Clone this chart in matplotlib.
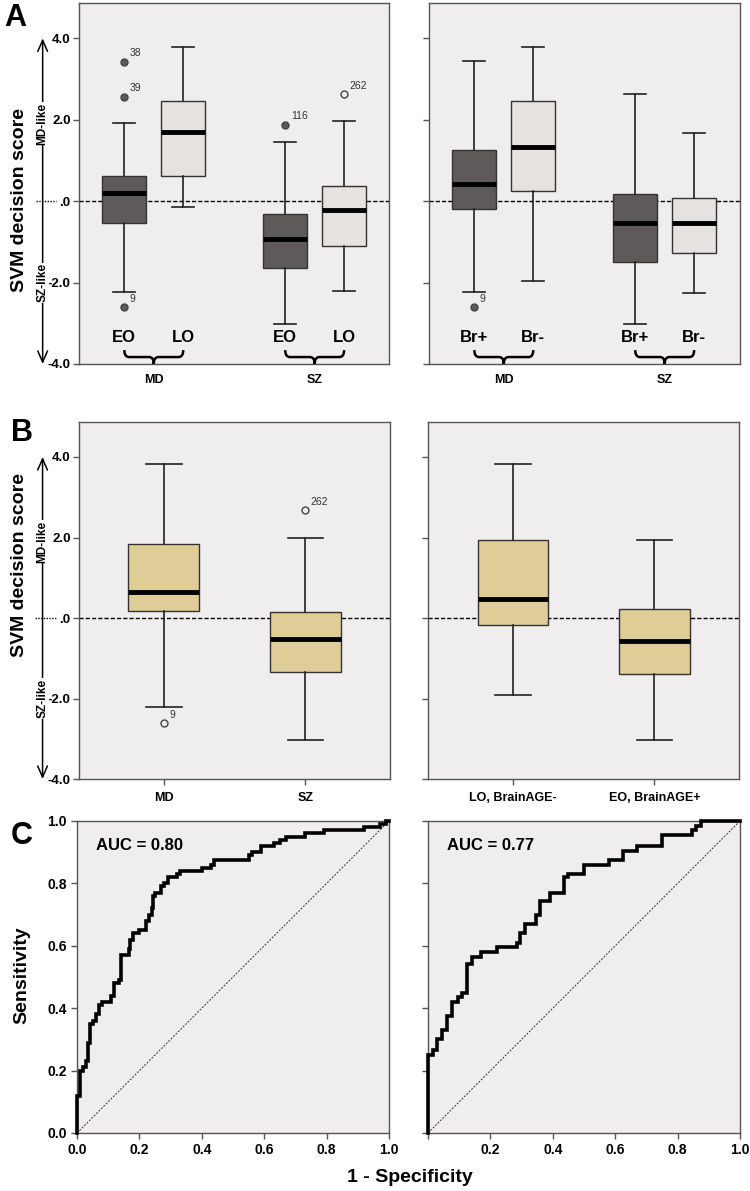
import matplotlib
matplotlib.use('Agg')
import matplotlib.pyplot as plt
from matplotlib.path import Path
from matplotlib.patches import PathPatch
from matplotlib.lines import Line2D

plt.rcParams['font.family'] = ['Liberation Sans', 'DejaVu Sans']

# ---- panel A, left: onset (EO / LO) within MD and SZ
a1_groups = ['MD', 'SZ']
a1_labels = ['EO', 'LO', 'EO', 'LO']
a1_whislo = [-2.22, -0.15, -3.02, -2.20]
a1_q1 = [-0.53, 0.63, -1.63, -1.10]
a1_med = [0.20, 1.69, -0.92, -0.22]
a1_q3 = [0.62, 2.45, -0.32, 0.37]
a1_whishi = [1.91, 3.78, 1.46, 1.96]
a1_fliers = [[3.42, 2.56, -2.61], [], [1.88], [2.63]]
a1_flier_ids = [['38', '39', '9'], [], ['116'], ['262']]

# ---- panel A, right: BrainAGE (Br+ / Br-) within MD and SZ
a2_groups = ['MD', 'SZ']
a2_labels = ['Br+', 'Br-', 'Br+', 'Br-']
a2_whislo = [-2.22, -1.96, -3.02, -2.26]
a2_q1 = [-0.20, 0.25, -1.50, -1.27]
a2_med = [0.42, 1.34, -0.53, -0.53]
a2_q3 = [1.26, 2.46, 0.17, 0.09]
a2_whishi = [3.44, 3.80, 2.64, 1.67]
a2_fliers = [[-2.61], [], [], []]
a2_flier_ids = [['9'], [], [], []]

# ---- panel B
b1_labels = ['MD', 'SZ']
b1_whislo = [-2.22, -3.02]
b1_q1 = [0.17, -1.34]
b1_med = [0.65, -0.52]
b1_q3 = [1.84, 0.14]
b1_whishi = [3.83, 2.00]
b1_fliers = [[-2.62], [2.68]]
b1_flier_ids = [['9'], ['262']]

b2_labels = ['LO, BrainAGE-', 'EO, BrainAGE+']
b2_whislo = [-1.92, -3.02]
b2_q1 = [-0.18, -1.39]
b2_med = [0.48, -0.575]
b2_q3 = [1.94, 0.23]
b2_whishi = [3.83, 1.94]
b2_fliers = [[], []]
b2_flier_ids = [[], []]

# ---- panel C: ROC curves (points where the curve rises)
roc1_fpr = [0, 0, 0.008, 0.02, 0.03, 0.035, 0.04, 0.05, 0.06, 0.07, 0.08, 0.11, 0.12, 0.135,
            0.14, 0.165, 0.17, 0.18, 0.20, 0.22, 0.23, 0.24, 0.245, 0.25, 0.27, 0.28, 0.29,
            0.32, 0.33, 0.40, 0.43, 0.44, 0.55, 0.56, 0.59, 0.63, 0.65, 0.67, 0.73, 0.79,
            0.92, 0.97, 0.99, 1.0]
roc1_tpr = [0, 0.12, 0.20, 0.21, 0.23, 0.29, 0.35, 0.36, 0.38, 0.41, 0.42, 0.44, 0.48, 0.49,
            0.57, 0.59, 0.62, 0.64, 0.65, 0.68, 0.70, 0.72, 0.76, 0.77, 0.79, 0.80, 0.82,
            0.83, 0.84, 0.85, 0.86, 0.875, 0.89, 0.90, 0.92, 0.93, 0.94, 0.95, 0.96, 0.97,
            0.98, 0.99, 1.0, 1.0]
roc1_auc = 'AUC = 0.80'

roc2_fpr = [0, 0, 0.015, 0.03, 0.045, 0.06, 0.078, 0.095, 0.11, 0.125, 0.14, 0.17, 0.22,
            0.285, 0.295, 0.31, 0.345, 0.36, 0.39, 0.435, 0.45, 0.50, 0.58, 0.625, 0.67,
            0.75, 0.845, 0.86, 0.875, 1.0]
roc2_tpr = [0, 0.25, 0.265, 0.30, 0.33, 0.375, 0.42, 0.435, 0.45, 0.54, 0.565, 0.58, 0.595,
            0.61, 0.64, 0.67, 0.70, 0.745, 0.77, 0.82, 0.83, 0.86, 0.875, 0.905, 0.92,
            0.955, 0.97, 0.985, 1.0, 1.0]
roc2_auc = 'AUC = 0.77'

DARK = '#5e5a5a'
LIGHT = '#e5e2e0'
TAN = '#dfcd98'
BG = '#efeded'
EDGE = '#555555'
TICKFONT = ['Liberation Sans Narrow', 'Liberation Sans', 'DejaVu Sans']

fig = plt.figure(figsize=(7.5, 11.91), dpi=100)
fig.patch.set_facecolor('white')


def style_axes(ax):
    ax.set_facecolor(BG)
    for s in ax.spines.values():
        s.set_color(EDGE)
        s.set_linewidth(1)
    ax.tick_params(direction='out', length=4, width=1, color=EDGE)


def draw_boxes(ax, pos, width, whislo, q1, med, q3, whishi, fliers, ids, colors, filled):
    stats = []
    for i in range(len(pos)):
        stats.append(dict(whislo=whislo[i], q1=q1[i], med=med[i], q3=q3[i],
                          whishi=whishi[i], fliers=fliers[i]))
    res = ax.bxp(stats, positions=pos, widths=width, patch_artist=True,
                 capwidths=[width * 0.5] * len(pos),
                 boxprops=dict(edgecolor='#333333', linewidth=1),
                 whiskerprops=dict(color='#222222', linewidth=1.2),
                 capprops=dict(color='#222222', linewidth=1.2),
                 medianprops=dict(color='black', linewidth=3.5, solid_capstyle='butt'),
                 flierprops=dict(marker='o', markersize=5))
    for patch, c in zip(res['boxes'], colors):
        patch.set_facecolor(c)
    for fl, f in zip(res['fliers'], filled):
        fl.set_markeredgecolor('#444444')
        fl.set_markerfacecolor(DARK if f else 'none')
        fl.set_markeredgewidth(1)
    for i in range(len(pos)):
        for v, t in zip(fliers[i], ids[i]):
            ax.annotate(t, (pos[i], v), xytext=(4, 4), textcoords='offset points',
                        fontsize=7.5, color='#333333')


def score_axes(ax, left):
    style_axes(ax)
    ax.set_ylim(-4.0, 4.87)
    ax.set_yticks([4, 2, 0, -2, -4])
    ax.axhline(0, color='black', lw=1, ls=(0, (3, 1.5)), zorder=1)
    if left:
        ax.set_yticklabels(['4.0', '2.0', '.0', '-2.0', '-4.0'], fontsize=9.5,
                           fontweight='bold', family=TICKFONT)
        ax.tick_params(axis='y', pad=2)
        tr = ax.get_yaxis_transform()
        xa = -0.117
        ax.annotate('', xy=(xa, 4.0), xytext=(xa, -4.0), xycoords=tr, textcoords=tr,
                    arrowprops=dict(arrowstyle='<->,head_length=0.8,head_width=0.35', lw=1.1,
                                    color='black', shrinkA=0, shrinkB=0))
        ax.text(xa, 1.9, 'MD-like', transform=tr, rotation=90, ha='center', va='center',
                fontsize=8.5, fontweight='bold',
                bbox=dict(facecolor='white', edgecolor='none', pad=0.3))
        ax.text(xa, -2.0, 'SZ-like', transform=tr, rotation=90, ha='center', va='center',
                fontsize=8.5, fontweight='bold',
                bbox=dict(facecolor='white', edgecolor='none', pad=0.3))
        ax.add_line(Line2D([-0.14, -0.075], [0, 0], transform=tr, color='black', lw=1,
                           ls=(0, (1, 1)), clip_on=False))
    else:
        ax.set_yticklabels([])


def brace(ax, x0, x1, ytop, ybot):
    xc = (x0 + x1) / 2
    ym = (ytop + ybot) / 2
    r = (x1 - x0) * 0.08
    verts = [(x0, ytop), (x0, ym), (x0 + r, ym),
             (xc - r, ym), (xc, ym), (xc, ybot),
             (xc, ym), (xc + r, ym),
             (x1 - r, ym), (x1, ym), (x1, ytop)]
    codes = [Path.MOVETO, Path.CURVE3, Path.CURVE3,
             Path.LINETO, Path.CURVE3, Path.CURVE3,
             Path.CURVE3, Path.CURVE3,
             Path.LINETO, Path.CURVE3, Path.CURVE3]
    ax.add_patch(PathPatch(Path(verts, codes), fill=False, lw=1.8, ec='black',
                           clip_on=False, zorder=5))


# positions for clustered boxes
grp = [1, 2]
off = 0.183
pos4 = [grp[0] - off, grp[0] + off, grp[1] - off, grp[1] + off]
pos2 = [1, 2]

# ---- Panel A
for k, (x0, data) in enumerate([
        (0.1053, (a1_groups, a1_labels, a1_whislo, a1_q1, a1_med, a1_q3, a1_whishi,
                  a1_fliers, a1_flier_ids)),
        (0.572, (a2_groups, a2_labels, a2_whislo, a2_q1, a2_med, a2_q3, a2_whishi,
                 a2_fliers, a2_flier_ids))]):
    groups, labels, wl, q1, md, q3, wh, fl, ids = data
    ax = fig.add_axes([x0, 0.6944, 0.414, 0.3031])
    score_axes(ax, k == 0)
    draw_boxes(ax, pos4, 0.275, wl, q1, md, q3, wh, fl, ids,
               [DARK, LIGHT, DARK, LIGHT], [True, False, True, False])
    ax.set_xlim(0.535, 2.465)
    ax.set_xticks(grp)
    ax.set_xticklabels(groups, fontsize=9, fontweight='bold')
    ax.tick_params(axis='x', length=0, pad=7)
    for p, t in zip(pos4, labels):
        ax.text(p, -3.36, t, ha='center', va='center', fontsize=12, fontweight='bold')
    for g in grp:
        brace(ax, g - off, g + off, -3.66, -4.0)

# ---- Panel B
for k, (x0, data) in enumerate([
        (0.1053, (b1_labels, b1_whislo, b1_q1, b1_med, b1_q3, b1_whishi, b1_fliers,
                  b1_flier_ids)),
        (0.5707, (b2_labels, b2_whislo, b2_q1, b2_med, b2_q3, b2_whishi, b2_fliers,
                  b2_flier_ids))]):
    labels, wl, q1, md, q3, wh, fl, ids = data
    ax = fig.add_axes([x0, 0.3459, 0.415, 0.2998])
    score_axes(ax, k == 0)
    draw_boxes(ax, pos2, 0.5, wl, q1, md, q3, wh, fl, ids, [TAN, TAN], [False, False])
    ax.set_xlim(0.4, 2.6)
    ax.set_xticks(pos2)
    ax.set_xticklabels(labels, fontsize=9, fontweight='bold')
    ax.tick_params(axis='x', pad=5)

# ---- Panel C
for k, (x0, fpr, tpr, auc) in enumerate([(0.1027, roc1_fpr, roc1_tpr, roc1_auc),
                                         (0.5707, roc2_fpr, roc2_tpr, roc2_auc)]):
    ax = fig.add_axes([x0, 0.0487, 0.416, 0.262])
    style_axes(ax)
    ax.plot([0, 1], [0, 1], color='#333333', lw=0.7, ls=(0, (2, 1.5)))
    ax.plot(fpr, tpr, drawstyle='steps-post', color='black', lw=2.6,
            solid_joinstyle='miter', clip_on=False, zorder=4)
    ax.set_xlim(0, 1)
    ax.set_ylim(0, 1)
    ax.set_xticks([0, 0.2, 0.4, 0.6, 0.8, 1.0])
    ax.set_yticks([0, 0.2, 0.4, 0.6, 0.8, 1.0])
    if k == 0:
        ax.set_xticklabels(['0.0', '0.2', '0.4', '0.6', '0.8', '1.0'],
                           fontsize=10, fontweight='bold', family=TICKFONT)
        ax.set_yticklabels(['0.0', '0.2', '0.4', '0.6', '0.8', '1.0'],
                           fontsize=10, fontweight='bold', family=TICKFONT)
    else:
        ax.set_xticklabels(['', '0.2', '0.4', '0.6', '0.8', '1.0'],
                           fontsize=10, fontweight='bold', family=TICKFONT)
        ax.set_yticklabels([])
    ax.text(0.06, 0.92, auc, transform=ax.transAxes, fontsize=12, fontweight='bold',
            va='center')

# ---- labels
fig.text(15 / 750, 1 - 18 / 1191, 'A', fontsize=22, fontweight='bold', ha='center', va='center')
fig.text(22 / 750, 1 - 433 / 1191, 'B', fontsize=22, fontweight='bold', ha='center', va='center')
fig.text(22 / 750, 1 - 836 / 1191, 'C', fontsize=22, fontweight='bold', ha='center', va='center')
for yc in (200, 565):
    fig.text(20 / 750, 1 - yc / 1191, 'SVM decision score', rotation=90, fontsize=14,
             fontweight='bold', ha='center', va='center')
fig.text(22 / 750, 1 - 975 / 1191, 'Sensitivity', rotation=90, fontsize=14,
         fontweight='bold', ha='center', va='center')
fig.text(410 / 750, 1 - 1178 / 1191, '1 - Specificity', fontsize=14,
         fontweight='bold', ha='center', va='center')

fig.savefig('out.png', dpi=100, facecolor='white')
